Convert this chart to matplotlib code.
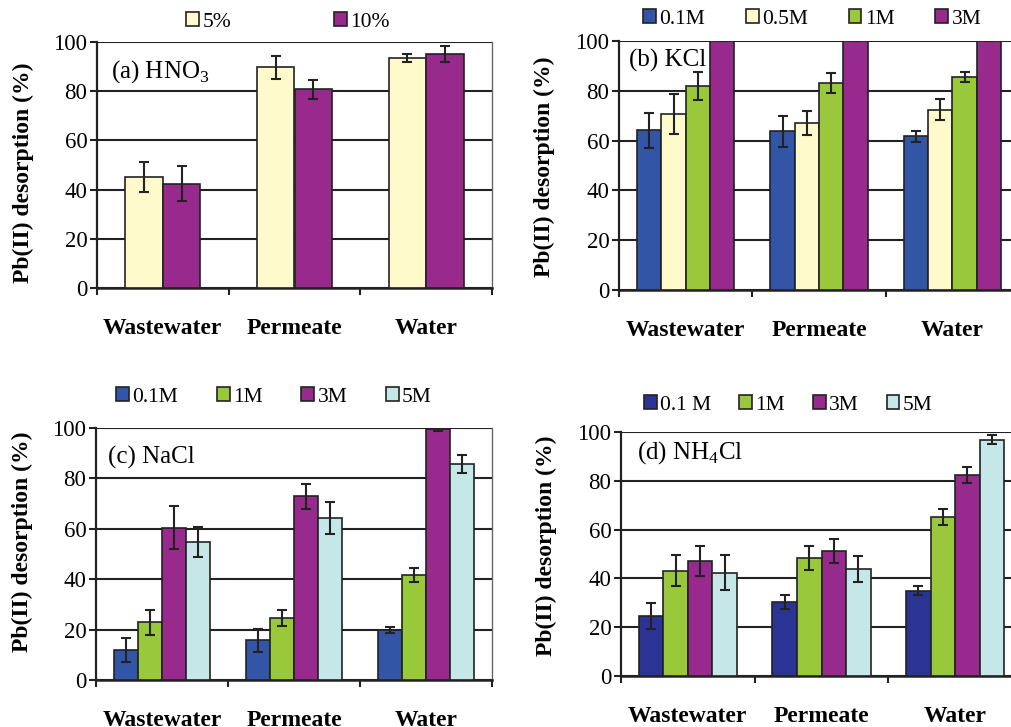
import numpy as np
import matplotlib
matplotlib.use("Agg")
from matplotlib import pyplot as plt
from matplotlib.patches import Rectangle

plt.rcParams['font.family'] = ['Liberation Serif', 'DejaVu Serif']
plt.rcParams['mathtext.fontset'] = 'custom'
plt.rcParams['mathtext.rm'] = 'Liberation Serif'

# 数据 (Pb(II) 解吸率 %, 误差)
sites = ['Wastewater', 'Permeate', 'Water']

hno3_labels = ['5%', '10%']
hno3_vals = [[45.2, 89.7, 93.5],
             [42.4, 80.7, 95.1]]
hno3_err = [[6.1, 4.8, 1.8],
            [7.1, 4.0, 3.2]]

kcl_labels = ['0.1M', '0.5M', '1M', '3M']
kcl_vals = [[64.1, 63.7, 61.8],
            [70.6, 67.0, 72.4],
            [82.0, 83.1, 85.5],
            [100.0, 100.0, 100.0]]
kcl_err = [[7.0, 6.3, 2.2],
           [8.1, 4.7, 4.2],
           [5.7, 4.0, 1.9],
           [0.0, 0.0, 0.0]]

nacl_labels = ['0.1M', '1M', '3M', '5M']
nacl_vals = [[11.9, 15.7, 19.8],
             [22.9, 24.7, 41.7],
             [60.5, 72.9, 99.7],
             [54.8, 64.3, 85.6]]
nacl_err = [[4.7, 4.6, 1.1],
            [5.0, 3.2, 2.8],
            [8.5, 5.0, 0.8],
            [6.0, 6.5, 3.5]]

nh4cl_labels = ['0.1 M', '1M', '3M', '5M']
nh4cl_vals = [[24.6, 30.4, 35.0],
              [43.2, 48.3, 65.1],
              [47.1, 51.3, 82.4],
              [42.3, 43.9, 96.9]]
nh4cl_err = [[5.5, 3.0, 1.7],
             [6.2, 5.0, 3.4],
             [6.0, 4.8, 3.4],
             [7.2, 5.3, 1.8]]

# 颜色
yellow = '#FFFACC'
purple = '#982A8E'
blue = '#3355A5'
navy = '#2B3494'
green = '#99C93B'
cyan = '#C6E7E8'

W, H = 1011, 727
fig = plt.figure(figsize=(W / 100, H / 100), dpi=100)


def px(x0, y0, x1, y1):
    # 像素框 -> figure 坐标
    return [x0 / W, 1 - y1 / H, (x1 - x0) / W, (y1 - y0) / H]


def panel(rect, vals, errs, labels, colors, width, title, tpos,
          leg_pos, colspace, right_spine, ylab_y):
    ax = fig.add_axes(rect)
    x = np.arange(len(sites))
    n = len(vals)
    for i in range(n):
        off = (i - (n - 1) / 2) * width
        ax.bar(x + off, vals[i], width, color=colors[i], edgecolor='#222222',
               linewidth=1.2, zorder=3)
        ax.errorbar(x + off, vals[i], yerr=errs[i], fmt='none', ecolor='#222222',
                    elinewidth=1.5, capsize=3.5, capthick=1.5, zorder=4)
    ax.set_xlim(-0.5, 2.5)
    ax.set_ylim(0, 100)
    ax.set_yticks(np.arange(0, 101, 20))
    ax.set_xticks([-0.5, 0.5, 1.5, 2.5])
    ax.set_xticklabels([])
    ax.tick_params(axis='both', direction='out', length=5, width=1.5,
                   color='#222222', labelsize=16.5, pad=2)
    ax.yaxis.grid(True, color='#222222', linewidth=1.5, zorder=0)
    ax.set_axisbelow(True)
    ax.spines['top'].set_visible(False)
    ax.spines['left'].set_linewidth(1.6)
    ax.spines['bottom'].set_linewidth(1.8)
    ax.spines['left'].set_color('#222222')
    ax.spines['bottom'].set_color('#222222')
    if right_spine:
        ax.spines['right'].set_color('#666666')
        ax.spines['right'].set_linewidth(1.0)
    else:
        ax.spines['right'].set_visible(False)
    for i, s in enumerate(sites):
        ax.annotate(s, xy=(i, 0), xycoords=('data', 'axes fraction'),
                    xytext=(0, -29), textcoords='offset points',
                    ha='center', va='center', fontsize=17, fontweight='bold')
    ax.set_ylabel('Pb(II) desorption (%)', fontsize=17, fontweight='bold')
    ax.yaxis.set_label_coords(-0.16, ylab_y)
    fig.text(tpos[0] / W, 1 - tpos[1] / H, title, fontsize=18,
             ha='left', va='center', zorder=1)
    handles = [Rectangle((0, 0), 1, 1, facecolor=c, edgecolor='#222222',
                         linewidth=1.2) for c in colors]
    fig.legend(handles, labels, loc='center', ncol=n,
               bbox_to_anchor=(leg_pos[0] / W, 1 - leg_pos[1] / H),
               frameon=False, fontsize=15.5, handlelength=0.6, handleheight=0.6,
               handletextpad=0.15, columnspacing=colspace, borderpad=0)
    return ax


panel(px(97, 42, 492, 288), hno3_vals, hno3_err, hno3_labels,
      [yellow, purple], 0.284, r'(a) HNO$_3$', (111, 72), (288, 22), 4.8, True, 0.467)
panel(px(619, 41, 1019, 290), kcl_vals, kcl_err, kcl_labels,
      [blue, yellow, green, purple], 0.1825, '(b) KCl', (629, 60), (812, 19), 1.9, False, 0.494)
panel(px(96, 428, 492, 680), nacl_vals, nacl_err, nacl_labels,
      [blue, green, purple, cyan], 0.1835, '(c) NaCl', (108, 457), (274, 397), 1.8, True, 0.548)
panel(px(621, 432, 1022, 676), nh4cl_vals, nh4cl_err, nh4cl_labels,
      [navy, green, purple, cyan], 0.1835, r'(d) NH$_4$Cl', (637, 453), (788, 405), 1.3, False, 0.533)

fig.savefig('out.png', dpi=100)
